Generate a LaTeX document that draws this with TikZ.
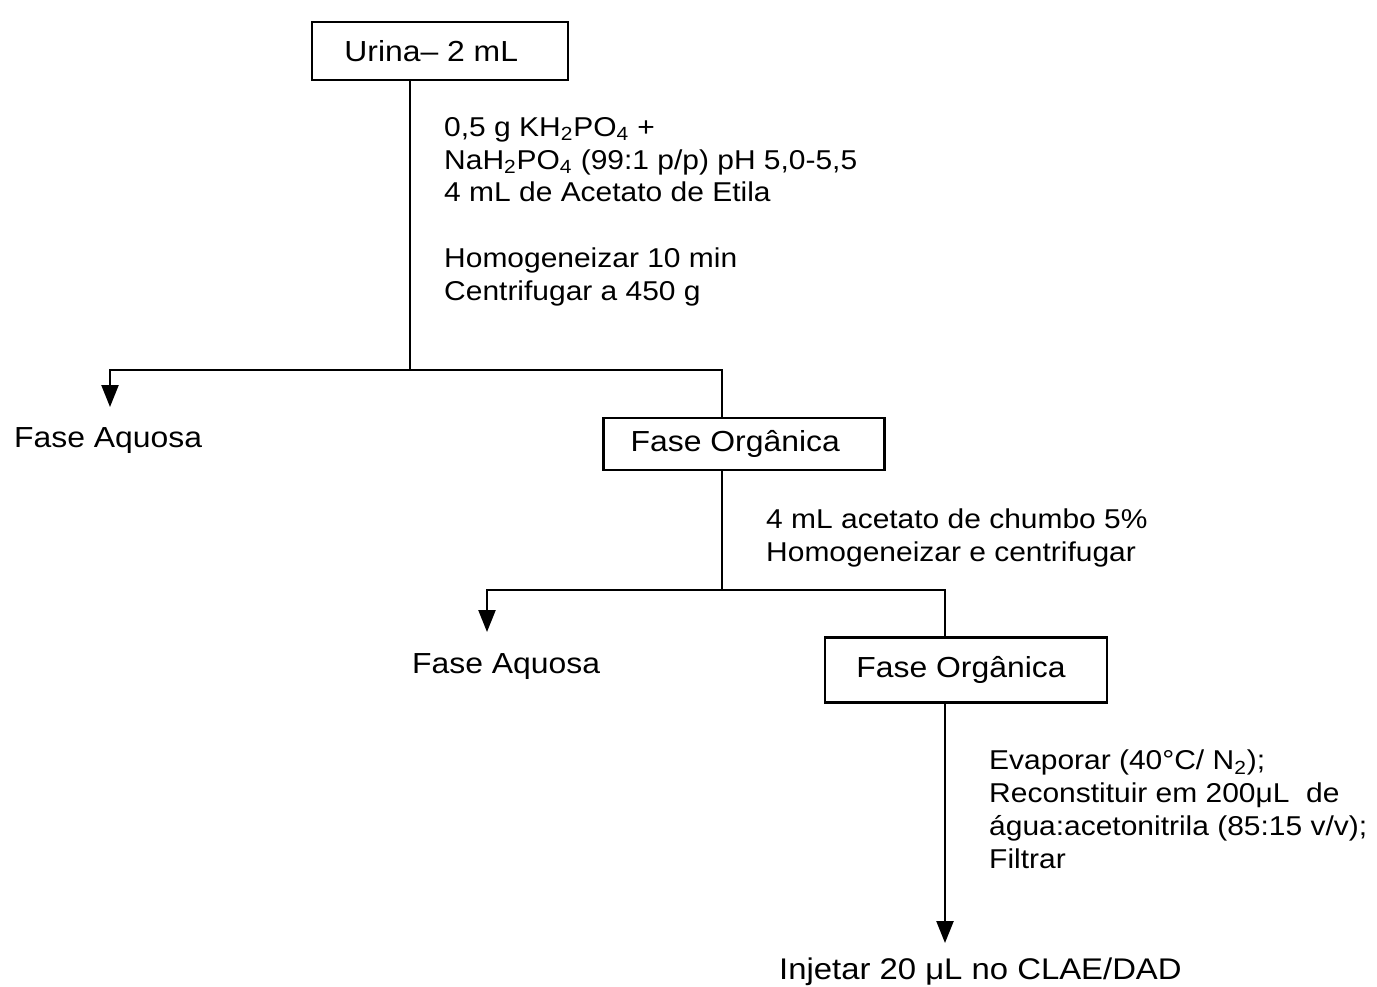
\documentclass[tikz,border=0pt]{standalone}
\usepackage{fontspec}
\setmainfont{Liberation Sans}[FakeStretch=1.1]
\usetikzlibrary{arrows.meta,positioning}

\begin{document}
\begin{tikzpicture}[
    x=0.02cm, y=-0.02cm,
    line width=1.4pt,
    box/.style={draw,inner sep=0pt,font=\fontsize{16.5}{19}\selectfont},
    phase/.style={anchor=base west,inner sep=0pt,font=\fontsize{16.5}{19}\selectfont},
    note/.style={align=left,anchor=north west,inner sep=0pt,font=\fontsize{15.5}{18.7}\selectfont},
    >={Triangle[length=0.44cm,width=0.34cm]},
]
    \useasboundingbox (0,0) rectangle (1377,987);

    \node[box,minimum width=5.12cm,minimum height=1.16cm] (urina) at (440,51) {Urina– 2 mL\hspace*{0.35cm}};
    \node[box,minimum width=5.62cm,minimum height=1.04cm] (org1) at (744,444) {Fase Orgânica\hspace*{0.35cm}};
    \node[box,minimum width=5.64cm,minimum height=1.3cm] (org2) at (966,670) {Fase Orgânica\hspace*{0.2cm}};

    \node[phase] (aq1) at (13,447) {Fase Aquosa};
    \node[phase] (aq2) at (411,673) {Fase Aquosa};
    \node[phase,font=\fontsize{17}{19}\selectfont] (inj) at (778,979) {Injetar 20 μL no CLAE/DAD};

    \node[note] (n1) at (443,116) {0,5 g KH\textsubscript{2}PO\textsubscript{4} +\\
        NaH\textsubscript{2}PO\textsubscript{4} (99:1 p/p) pH 5,0-5,5\\
        4 mL de Acetato de Etila\\[18.7pt]
        Homogeneizar 10 min\\
        Centrifugar a 450 g};
    \node[note] (n2) at (765,508) {4 mL acetato de chumbo 5\%\\
        Homogeneizar e centrifugar};
    \node[note] (n3) at (988,749) {Evaporar (40°C/ N\textsubscript{2});\\
        Reconstituir em 200μL~ de\\
        água:acetonitrila (85:15 v/v);\\
        Filtrar};

    % split points and arrow ends
    \coordinate (f1) at (410,370);
    \coordinate (f2) at (722,590);
    \coordinate (t1) at (110,407);
    \coordinate (t2) at (487,632);
    \coordinate (t3) at (945,943);

    \draw (urina.south -| f1) -- (f1);
    \draw[->] (f1) -| (t1);
    \draw (f1) -| (org1.north -| f2);
    \draw (org1.south -| f2) -- (f2);
    \draw[->] (f2) -| (t2);
    \draw (f2) -| (org2.north -| t3);
    \draw[->] (org2.south -| t3) -- (t3);
\end{tikzpicture}
\end{document}
